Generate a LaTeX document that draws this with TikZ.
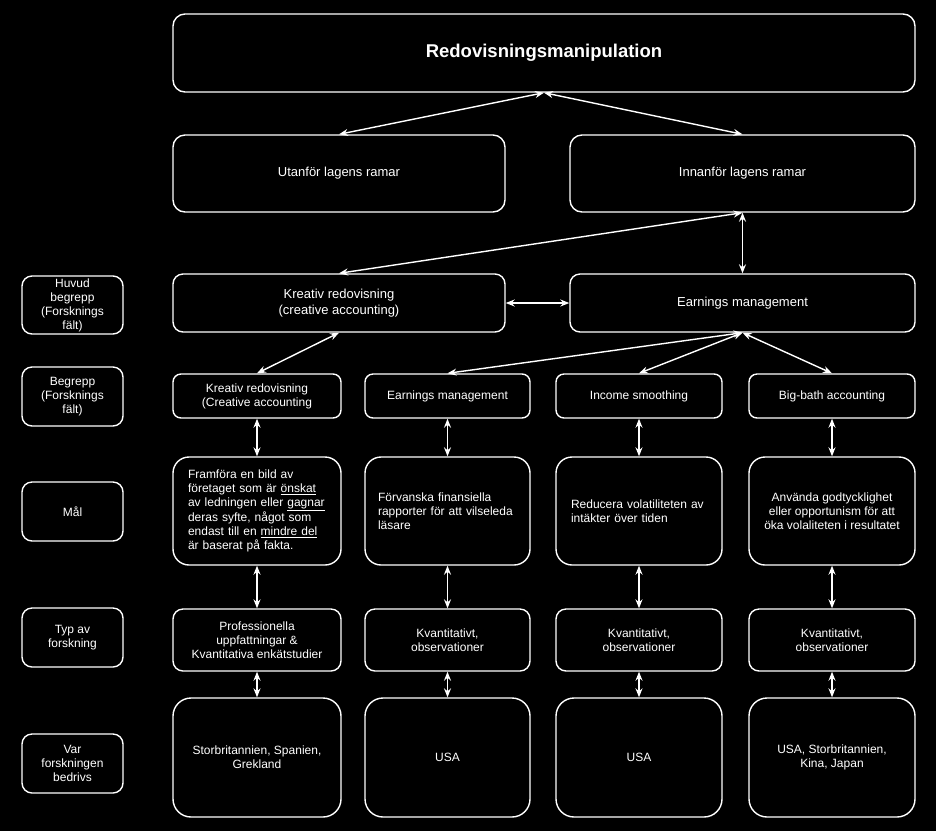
\documentclass[tikz,border=0pt]{standalone}
\usepackage{fontspec}
\setmainfont{Liberation Sans}
\usetikzlibrary{arrows.meta}
\begin{document}
\begin{tikzpicture}[x=1pt,y=-1pt,
  box/.style={draw=white,line width=1.4pt,fill=black,text=white,rectangle,
    inner sep=0pt,align=center,font=\fontsize{12}{14}\selectfont},
  conn/.style={draw=white,line width=1.4pt,
    {Stealth[length=9pt,width=7pt,inset=3pt]}-{Stealth[length=9pt,width=7pt,inset=3pt]}}]
\fill[black] (0,0) rectangle (936,831);
\useasboundingbox (0,0) rectangle (936,831);
% top rows
\node[box,rounded corners=12pt,minimum width=742pt,minimum height=78pt,font=\fontsize{18.5}{22}\selectfont\bfseries] (top) at (544,53) {Redovisningsmanipulation};
\node[box,rounded corners=12pt,minimum width=332pt,minimum height=77pt,font=\fontsize{13}{16}\selectfont] (ut) at (339,173.5) {Utanför lagens ramar};
\node[box,rounded corners=12pt,minimum width=345pt,minimum height=77pt,font=\fontsize{13}{16}\selectfont] (inn) at (742.5,173.5) {Innanför lagens ramar};
\node[box,rounded corners=10pt,minimum width=332pt,minimum height=58pt,font=\fontsize{13}{16}\selectfont] (kr3) at (339,303) {Kreativ redovisning\\(creative accounting)};
\node[box,rounded corners=10pt,minimum width=345pt,minimum height=58pt,font=\fontsize{13}{16}\selectfont] (em3) at (742.5,303) {Earnings management};
% left labels
\node[box,rounded corners=10pt,minimum width=101pt,minimum height=58pt] (lab1) at (72.5,305) {Huvud\\begrepp\\(Forsknings\\fält)};
\node[box,rounded corners=10pt,minimum width=101pt,minimum height=59pt] (lab2) at (72.5,396.5) {Begrepp\\(Forsknings\\fält)};
\node[box,rounded corners=10pt,minimum width=101pt,minimum height=59pt] (lab3) at (72.5,511.5) {Mål};
\node[box,rounded corners=10pt,minimum width=101pt,minimum height=59pt] (lab4) at (72.5,637.5) {Typ av\\forskning};
\node[box,rounded corners=10pt,minimum width=101pt,minimum height=59pt] (lab5) at (72.5,763.5) {Var\\forskningen\\bedrivs};
% row 4
\node[box,rounded corners=8pt,minimum width=168pt,minimum height=44pt] (a4) at (257,396) {Kreativ redovisning\\(Creative accounting};
\node[box,rounded corners=8pt,minimum width=165pt,minimum height=44pt] (b4) at (447.5,396) {Earnings management};
\node[box,rounded corners=8pt,minimum width=166pt,minimum height=44pt] (c4) at (639,396) {Income smoothing};
\node[box,rounded corners=8pt,minimum width=166pt,minimum height=44pt] (d4) at (832,396) {Big-bath accounting};
% row 5
\node[box,rounded corners=16pt,minimum width=168pt,minimum height=108pt,text width=138pt,inner xsep=15pt,align=left] (a5) at (257,511) {Framföra en bild av\\företaget som är \underline{önskat}\\av ledningen eller \underline{gagnar}\\deras syfte, något som\\endast till en \underline{mindre del}\\är baserat på fakta.};
\node[box,rounded corners=16pt,minimum width=165pt,minimum height=108pt,text width=139pt,inner xsep=13pt,align=left] (b5) at (447.5,511) {Förvanska finansiella\\rapporter för att vilseleda\\läsare};
\node[box,rounded corners=16pt,minimum width=166pt,minimum height=108pt,text width=136pt,inner xsep=15pt,align=left] (c5) at (639,511) {Reducera volatiliteten av\\intäkter över tiden};
\node[box,rounded corners=16pt,minimum width=166pt,minimum height=108pt] (d5) at (832,511) {Använda godtycklighet\\eller opportunism för att\\öka volaliteten i resultatet};
% row 6
\node[box,rounded corners=10pt,minimum width=168pt,minimum height=62pt] (a6) at (257,640) {Professionella\\uppfattningar \&\\Kvantitativa enkätstudier};
\node[box,rounded corners=10pt,minimum width=165pt,minimum height=62pt] (b6) at (447.5,640) {Kvantitativt,\\observationer};
\node[box,rounded corners=10pt,minimum width=166pt,minimum height=62pt] (c6) at (639,640) {Kvantitativt,\\observationer};
\node[box,rounded corners=10pt,minimum width=166pt,minimum height=62pt] (d6) at (832,640) {Kvantitativt,\\observationer};
% row 7
\node[box,rounded corners=18pt,minimum width=168pt,minimum height=119pt] (a7) at (257,757.5) {Storbritannien, Spanien,\\Grekland};
\node[box,rounded corners=18pt,minimum width=165pt,minimum height=119pt] (b7) at (447.5,757.5) {USA};
\node[box,rounded corners=18pt,minimum width=166pt,minimum height=119pt] (c7) at (639,757.5) {USA};
\node[box,rounded corners=18pt,minimum width=166pt,minimum height=119pt] (d7) at (832,757.5) {USA, Storbritannien,\\Kina, Japan};
% connectors
\draw[conn] (top.south) -- (ut.north);
\draw[conn] (top.south) -- (inn.north);
\draw[conn] (inn.south) -- (kr3.north);
\draw[conn] (inn.south) -- (em3.north);
\draw[conn] (kr3.east) -- (em3.west);
\draw[conn] (kr3.south) -- (a4.north);
\draw[conn] (em3.south) -- (b4.north);
\draw[conn] (em3.south) -- (c4.north);
\draw[conn] (em3.south) -- (d4.north);
\foreach \c in {a,b,c,d}{
  \draw[conn] (\c4.south) -- (\c5.north);
  \draw[conn] (\c5.south) -- (\c6.north);
  \draw[conn] (\c6.south) -- (\c7.north);
}
\end{tikzpicture}
\end{document}
